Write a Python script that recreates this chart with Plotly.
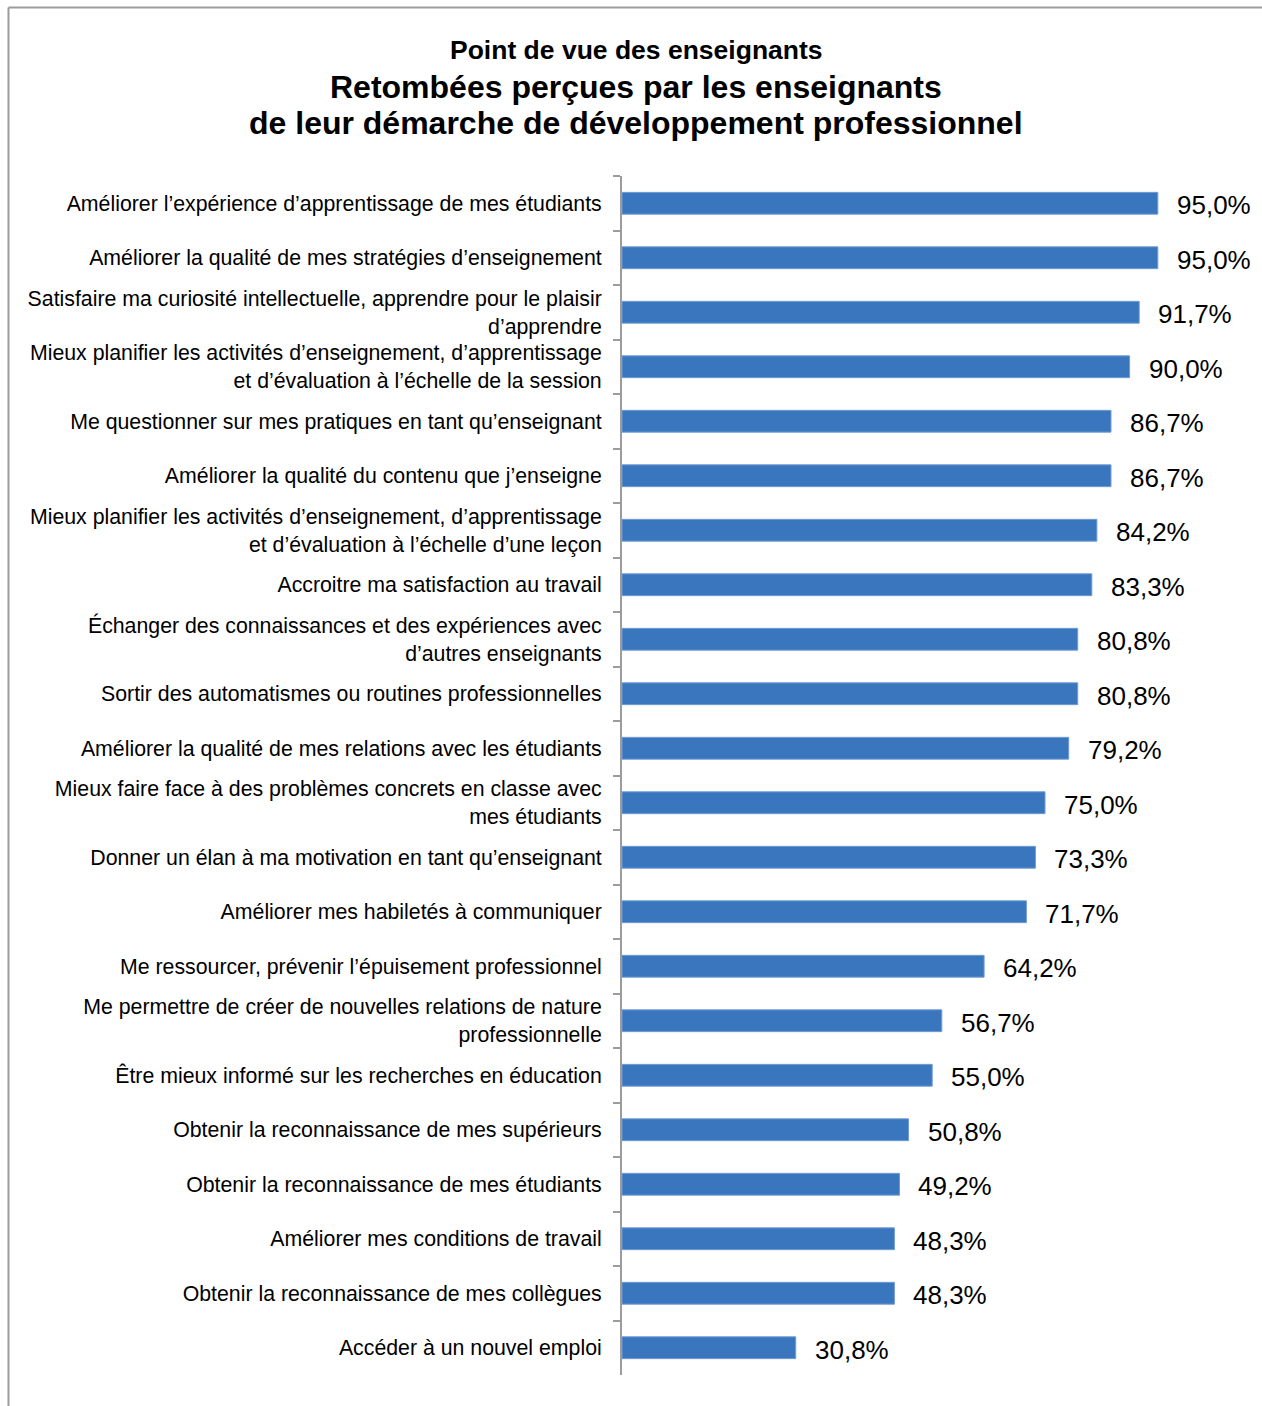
import plotly.graph_objects as go

# Survey items, top to bottom
categories = [
    "Améliorer l’expérience d’apprentissage de mes étudiants",
    "Améliorer la qualité de mes stratégies d’enseignement",
    "Satisfaire ma curiosité intellectuelle, apprendre pour le plaisir<br>d’apprendre",
    "Mieux planifier les activités d’enseignement, d’apprentissage<br>et d’évaluation à l’échelle de la session",
    "Me questionner sur mes pratiques en tant qu’enseignant",
    "Améliorer la qualité du contenu que j’enseigne",
    "Mieux planifier les activités d’enseignement, d’apprentissage<br>et d’évaluation à l’échelle d’une leçon",
    "Accroitre ma satisfaction au travail",
    "Échanger des connaissances et des expériences avec<br>d’autres enseignants",
    "Sortir des automatismes ou routines professionnelles",
    "Améliorer la qualité de mes relations avec les étudiants",
    "Mieux faire face à des problèmes concrets en classe avec<br>mes étudiants",
    "Donner un élan à ma motivation en tant qu’enseignant",
    "Améliorer mes habiletés à communiquer",
    "Me ressourcer, prévenir l’épuisement professionnel",
    "Me permettre de créer de nouvelles relations de nature<br>professionnelle",
    "Être mieux informé sur les recherches en éducation",
    "Obtenir la reconnaissance de mes supérieurs",
    "Obtenir la reconnaissance de mes étudiants",
    "Améliorer mes conditions de travail",
    "Obtenir la reconnaissance de mes collègues",
    "Accéder à un nouvel emploi",
]

# Share of teachers (%)
values = [95.0, 95.0, 91.7, 90.0, 86.7, 86.7, 84.2, 83.3, 80.8, 80.8, 79.2,
          75.0, 73.3, 71.7, 64.2, 56.7, 55.0, 50.8, 49.2, 48.3, 48.3, 30.8]

title_lines = [
    ("Point de vue des enseignants", 26.5),
    ("Retombées perçues par les enseignants", 32),
    ("de leur démarche de développement professionnel", 32),
]

W, H = 1262, 1406
ML, MR, MT, MB = 622, 76, 176, 31
PW, PH = W - ML - MR, H - MT - MB
FONT = "Liberation Sans, Arial, sans-serif"
GREY = "#9C9C9C"


def px_x(px):
    return (px - ML) / PW


def px_y(py):
    return (H - MB - py) / PH


def fmt(v):
    return f"{v:.1f}".replace(".", ",") + "%"


fig = go.Figure()
fig.add_trace(go.Bar(
    x=values,
    y=categories,
    orientation="h",
    width=0.40,
    marker=dict(color="#3A76BE", line=dict(color="#6F9BD3", width=1)),
    hoverinfo="skip",
))

annotations = []
for cat, v in zip(categories, values):
    annotations.append(dict(
        x=v, y=cat, xref="x", yref="y",
        text=fmt(v), showarrow=False,
        xanchor="left", yanchor="middle", xshift=17, yshift=-2,
        font=dict(family=FONT, size=26, color="#000000"),
    ))

title_y = [50, 87, 123]
for (txt, size), ty in zip(title_lines, title_y):
    annotations.append(dict(
        x=px_x(636), y=px_y(ty), xref="paper", yref="paper",
        text=f"<b>{txt}</b>", showarrow=False,
        xanchor="center", yanchor="middle",
        font=dict(family=FONT, size=size, color="#000000"),
    ))

shapes = [
    # outer frame: top and left edges
    dict(type="line", xref="paper", yref="paper",
         x0=px_x(8.5), x1=px_x(W + 5), y0=px_y(7.5), y1=px_y(7.5),
         line=dict(color=GREY, width=2)),
    dict(type="line", xref="paper", yref="paper",
         x0=px_x(8.5), x1=px_x(8.5), y0=px_y(7.5), y1=px_y(H + 5),
         line=dict(color=GREY, width=2)),
]

fig.update_layout(
    width=W, height=H,
    margin=dict(l=ML, r=MR, t=MT, b=MB),
    paper_bgcolor="white", plot_bgcolor="white",
    showlegend=False,
    annotations=annotations,
    shapes=shapes,
    font=dict(family=FONT, color="#000000"),
    xaxis=dict(range=[0, 100], visible=False, showgrid=False, zeroline=False,
               fixedrange=True),
    yaxis=dict(
        autorange="reversed",
        showline=True, linecolor=GREY, linewidth=2,
        ticks="outside", tickson="boundaries", ticklen=7,
        tickcolor=GREY, tickwidth=2,
        ticklabelstandoff=14,
        showgrid=False, zeroline=False,
        tickfont=dict(family=FONT, size=21.3, color="#000000"),
        fixedrange=True,
    ),
)

fig.write_html("out.html", config={"displayModeBar": False})
